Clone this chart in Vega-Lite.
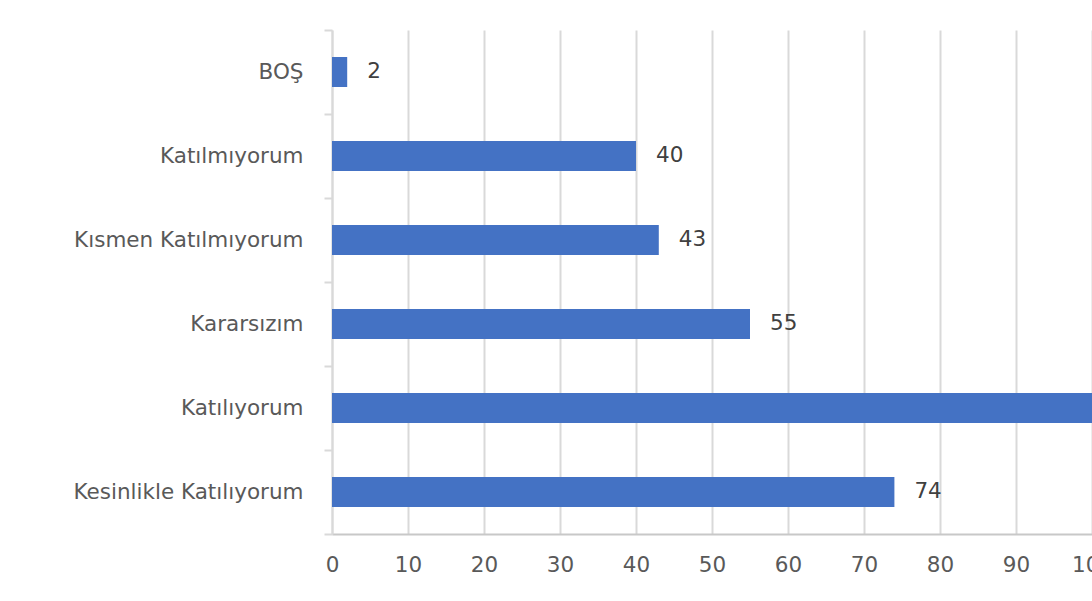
{
  "$schema": "https://vega.github.io/schema/vega-lite/v6.json",
  "autosize": {"type": "none"},
  "width": 760,
  "height": 504,
  "padding": {"left": 332, "top": 30, "right": 0, "bottom": 67},
  "background": "white",
  "config": {
    "view": {"stroke": null},
    "font": "DejaVu Sans"
  },
  "data": {
    "values": [
      {"cevap": "BOŞ", "n": 2},
      {"cevap": "Katılmıyorum", "n": 40},
      {"cevap": "Kısmen Katılmıyorum", "n": 43},
      {"cevap": "Kararsızım", "n": 55},
      {"cevap": "Katılıyorum", "n": 126},
      {"cevap": "Kesinlikle Katılıyorum", "n": 74}
    ]
  },
  "encoding": {
    "y": {
      "field": "cevap",
      "type": "nominal",
      "sort": ["BOŞ", "Katılmıyorum", "Kısmen Katılmıyorum", "Kararsızım", "Katılıyorum", "Kesinlikle Katılıyorum"],
      "scale": {"paddingInner": 0, "paddingOuter": 0},
      "axis": {
        "title": null,
        "tickBand": "extent",
        "ticks": true,
        "tickSize": 8,
        "tickColor": "#d9d9d9",
        "tickWidth": 2,
        "domainColor": "#d9d9d9",
        "domainWidth": 2,
        "grid": false,
        "labelFontSize": 21.5,
        "labelColor": "#595959",
        "labelPadding": 21,
        "labelLimit": 0,
        "labelFont": "DejaVu Sans"
      }
    },
    "x": {
      "field": "n",
      "type": "quantitative",
      "scale": {"domain": [0, 100], "nice": false},
      "axis": {
        "title": null,
        "values": [0, 10, 20, 30, 40, 50, 60, 70, 80, 90, 100],
        "grid": true,
        "gridColor": "#d9d9d9",
        "gridWidth": 2,
        "ticks": false,
        "domainColor": "#c8c8c8",
        "domainWidth": 2,
        "labelFontSize": 21.5,
        "labelColor": "#595959",
        "labelPadding": 20,
        "labelFont": "DejaVu Sans",
        "labelFlush": false,
        "labelOverlap": false
      }
    }
  },
  "layer": [
    {
      "mark": {"type": "bar", "color": "#4472C4", "height": {"band": 0.357}, "clip": true}
    },
    {
      "mark": {"type": "text", "align": "left", "dx": 20, "fontSize": 21.5, "color": "#404040", "clip": true, "font": "DejaVu Sans"},
      "encoding": {"text": {"field": "n", "type": "quantitative"}}
    }
  ]
}
